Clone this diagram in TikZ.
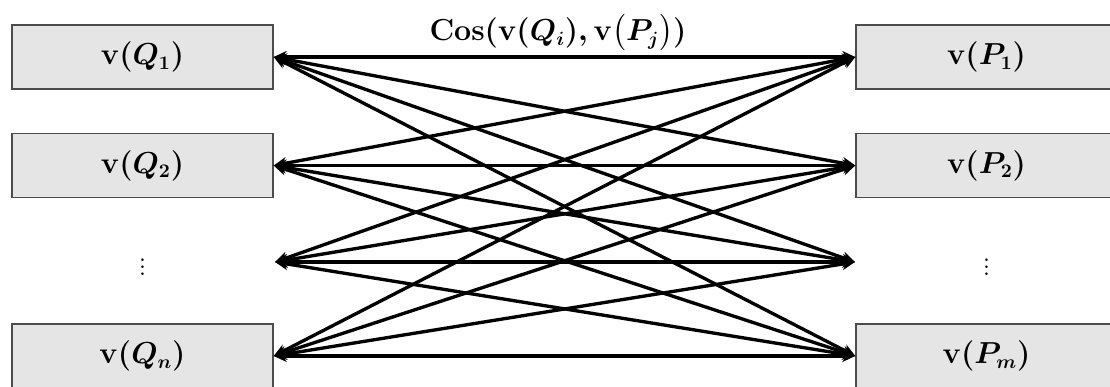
\documentclass[tikz,border=0pt]{standalone}
\usepackage{amsmath}
\usetikzlibrary{arrows.meta}

\tikzset{
  vecbox/.style={draw=black!70, line width=0.8pt, fill=black!10,
    minimum width=5.22cm, minimum height=1.28cm, inner sep=0pt,
    font=\fontsize{16}{19}\selectfont\boldmath},
  link/.style={{Stealth[length=0.26cm,width=0.24cm]}-{Stealth[length=0.26cm,width=0.24cm]},
    line width=1.9pt, black}
}

\begin{document}
\begin{tikzpicture}
  \useasboundingbox (0,0) rectangle (22.2,7.74);

  % query side
  \node[vecbox] (q1) at (2.85,6.6) {$\mathbf{v}(Q_1)$};
  \node[vecbox] (q2) at (2.85,4.43) {$\mathbf{v}(Q_2)$};
  \node[font=\fontsize{18}{20}\selectfont\boldmath, inner sep=0pt] (qdots) at (2.85,2.5) {$\vdots$};
  \node[vecbox] (qn) at (2.85,0.62) {$\mathbf{v}(Q_n)$};
  \coordinate (qd) at (5.5,2.5);

  % passage side
  \node[vecbox] (p1) at (19.73,6.6) {$\mathbf{v}(P_1)$};
  \node[vecbox] (p2) at (19.73,4.43) {$\mathbf{v}(P_2)$};
  \node[font=\fontsize{18}{20}\selectfont\boldmath, inner sep=0pt] (pdots) at (19.73,2.5) {$\vdots$};
  \node[vecbox] (pm) at (19.73,0.62) {$\mathbf{v}(P_m)$};
  \coordinate (pd) at (17.1,2.5);

  % every query against every passage
  \foreach \a in {q1.east,q2.east,qd,qn.east}
    \foreach \b in {p1.west,p2.west,pd,pm.west}
      \draw[link] (\a) -- (\b);

  \node[font=\fontsize{16}{19}\selectfont\boldmath, inner sep=1pt] (sim) at (11.16,7.08)
    {$\mathbf{Cos}(\mathbf{v}(Q_i),\mathbf{v}\bigl(P_j\bigr))$};
\end{tikzpicture}
\end{document}
